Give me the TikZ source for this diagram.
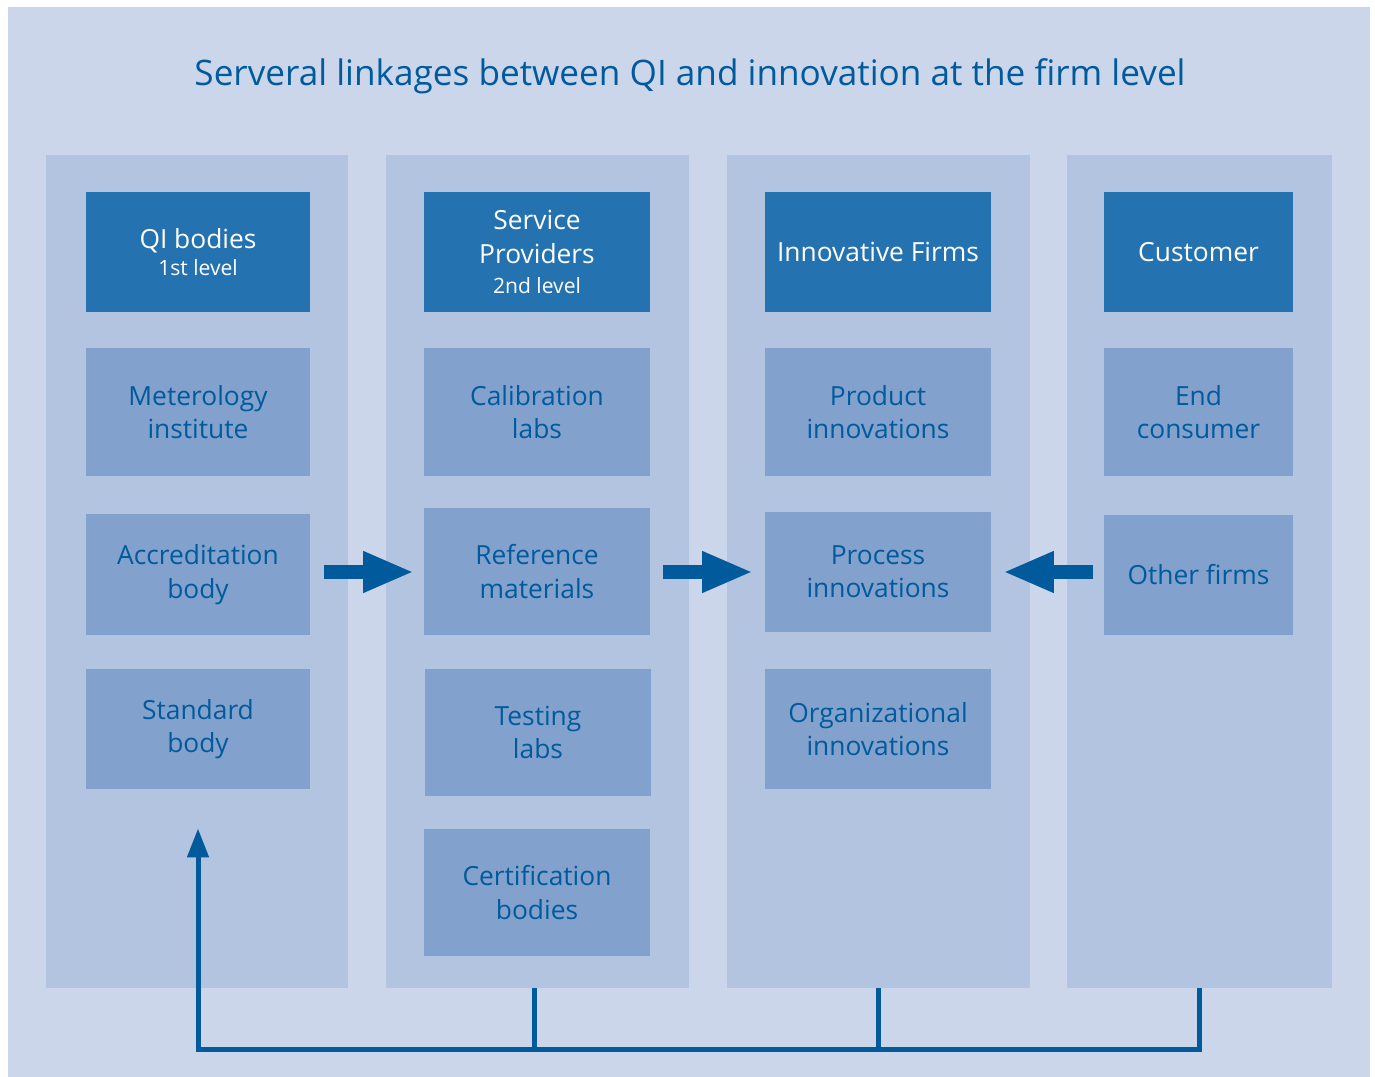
\documentclass[tikz,border=0pt]{standalone}
\usepackage{fontspec}
\setmainfont{Open Sans}
\usetikzlibrary{arrows.meta,positioning}

\definecolor{pagebg}{HTML}{CBD6EA}
\definecolor{colbg}{HTML}{B3C4E1}
\definecolor{lightbox}{HTML}{82A1CD}
\definecolor{darkbox}{HTML}{2473B0}
\definecolor{qiblue}{HTML}{005A9C}

\tikzset{
  column/.style={fill=colbg, inner sep=0pt, outer sep=0pt, minimum width=6.04cm, minimum height=16.66cm},
  head/.style={fill=darkbox, text=white, align=center, inner sep=0pt, outer sep=0pt,
    minimum width=4.5cm, minimum height=2.42cm, font=\fontsize{15}{19}\selectfont},
  item/.style={fill=lightbox, text=qiblue, align=center, inner sep=0pt, outer sep=0pt,
    minimum width=4.5cm, minimum height=2.56cm, font=\fontsize{15}{19}\selectfont},
  bigarrow/.style={draw=qiblue, line width=0.28cm, -{Triangle[length=1.02cm,width=0.76cm]}},
  feedback/.style={draw=qiblue, line width=0.1cm, line join=miter},
}
\newcommand{\lvl}[1]{{\fontsize{12}{15}\selectfont #1}}

\begin{document}
\begin{tikzpicture}[x=0.02cm, y=-0.02cm]
  \useasboundingbox (0,0) rectangle (1375,1077);
  \fill[pagebg] (8,7) rectangle (1370,1077);

  \node[text=qiblue, font=\fontsize{20}{24}\selectfont] (title) at (690,76)
    {Serveral linkages between QI and innovation at the firm level};

  % columns
  \node[column] (col1) at (197,571.5) {};
  \node[column, minimum width=6.06cm] (col2) at (537.5,571.5) {};
  \node[column, minimum width=6.06cm] (col3) at (878.5,571.5) {};
  \node[column, minimum width=5.3cm] (col4) at (1199.5,571.5) {};

  % QI bodies
  \node[head, minimum width=4.48cm] (qi) at (198,252) {QI bodies\\[-4pt]\lvl{1st level}};
  \node[item, minimum width=4.48cm] (metro) at (198,412) {Meterology\\institute};
  \node[item, minimum width=4.48cm, minimum height=2.42cm] (accr) at (198,574.5) {Accreditation\\body};
  \node[item, minimum width=4.48cm, minimum height=2.42cm] (standard) at (198,729) {Standard\\body};

  % service providers
  \node[head, minimum width=4.52cm] (service) at (537,252) {Service\\Providers\\[-2pt]\lvl{2nd level}};
  \node[item, minimum width=4.52cm] (calib) at (537,412) {Calibration\\labs};
  \node[item, minimum width=4.52cm] (ref) at (537,571.5) {Reference\\materials};
  \node[item, minimum width=4.52cm] (testing) at (538,732.5) {Testing\\labs};
  \node[item, minimum width=4.52cm] (cert) at (537,892.5) {Certification\\bodies};

  % innovative firms
  \node[head, minimum width=4.52cm] (firms) at (878,252) {Innovative Firms};
  \node[item, minimum width=4.52cm] (product) at (878,412) {Product\\innovations};
  \node[item, minimum width=4.52cm, minimum height=2.42cm] (process) at (878,572) {Process\\innovations};
  \node[item, minimum width=4.52cm, minimum height=2.42cm] (org) at (878,729) {Organizational\\innovations};

  % customer
  \node[head, minimum width=3.78cm] (customer) at (1198.5,252) {Customer};
  \node[item, minimum width=3.78cm] (endc) at (1198.5,412) {End\\consumer};
  \node[item, minimum width=3.78cm, minimum height=2.42cm] (other) at (1198.5,575) {Other firms};

  % linkages
  \draw[bigarrow, shorten <=0.28cm, shorten >=0.2cm] (accr.east |- 0,572) -- (ref.west |- 0,572);
  \draw[bigarrow, shorten <=0.26cm, shorten >=0.24cm] (ref.east |- 0,572) -- (process.west |- 0,572);
  \draw[bigarrow, shorten <=0.22cm, shorten >=0.24cm] (other.west |- 0,572) -- (process.east |- 0,572);

  \coordinate (base) at (0,1049);
  \draw[feedback, -{Triangle[length=0.58cm,width=0.42cm]}, shorten >=0.78cm]
    (col4.south) -- (col4.south |- base) -| (standard.south);
  \draw[feedback] ([xshift=-0.07cm]col2.south) -- ([xshift=-0.07cm]col2.south |- base);
  \draw[feedback] (col3.south) -- (col3.south |- base);
\end{tikzpicture}
\end{document}
